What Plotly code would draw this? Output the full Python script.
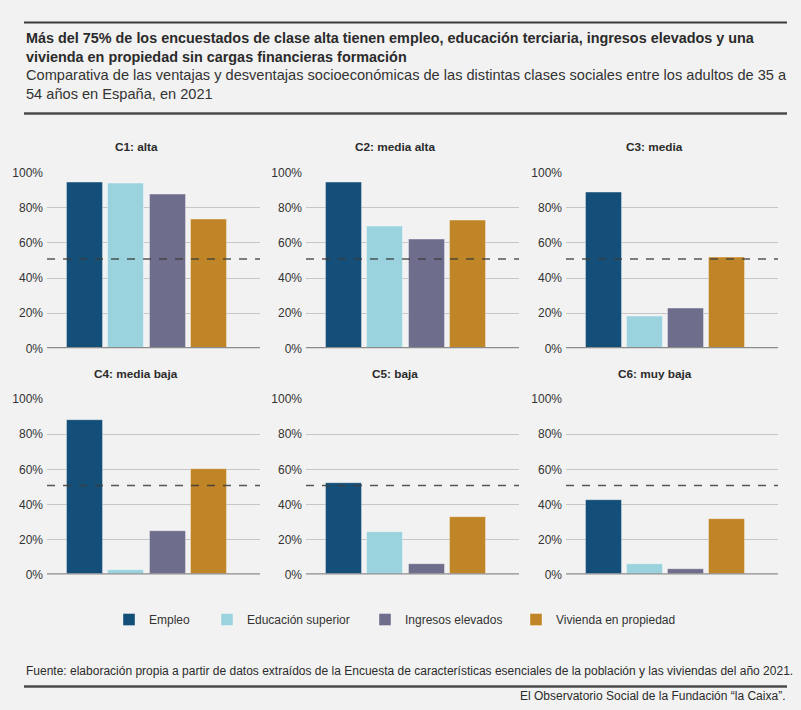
import plotly.graph_objects as go

# data
clases = ["C1: alta", "C2: media alta", "C3: media", "C4: media baja", "C5: baja", "C6: muy baja"]
series = ["Empleo", "Educación superior", "Ingresos elevados", "Vivienda en propiedad"]
empleo = [94.3, 94.1, 88.6, 88.2, 52.0, 42.7]
educacion = [93.8, 69.4, 17.8, 2.5, 23.9, 5.7]
ingresos = [87.5, 62.0, 22.6, 25.0, 5.7, 3.2]
vivienda = [73.3, 72.5, 51.4, 60.3, 33.0, 31.3]
referencia = 50.8
colores = ["#144f79", "#9ad3de", "#6e6e8c", "#c08526"]

W, H = 801, 710
valores = [empleo, educacion, ingresos, vivienda]


def py(y):
    # target pixel row in the picture -> paper y (the page comes out slightly squeezed vertically)
    return 1 - ((y - 6.4) / 0.982) / H


# panel positions in pixels (plot area)
col_x = [(47, 260), (306, 519), (566, 778)]
row_y = [(172.3, 348.3), (399.3, 575.0)]
title_y = [147, 374]
# left edge of each legend square
leg_x = [129, 227, 385, 536]
leg_names = ["legend", "legend2", "legend3", "legend4"]

FONT = "Liberation Sans, Arial, sans-serif"

fig = go.Figure()

for i, clase in enumerate(clases):
    r, c = divmod(i, 3)
    n = i + 1
    xa = "x" if n == 1 else f"x{n}"
    ya = "y" if n == 1 else f"y{n}"
    for s, nombre in enumerate(series):
        fig.add_trace(go.Bar(
            x=[s], y=[valores[s][i]], name=nombre,
            marker=dict(color=colores[s], line=dict(color="rgba(255,255,255,0.35)", width=1)),
            width=0.87, showlegend=(i == 0), legend=leg_names[s],
            xaxis=xa, yaxis=ya, hoverinfo="skip"))
    x0, x1 = col_x[c]
    y0, y1 = row_y[r]
    fig.layout[f"xaxis{n if n > 1 else ''}"] = dict(
        domain=[x0 / W, x1 / W], range=[-0.92, 4.23], showticklabels=False,
        showgrid=False, zeroline=False, fixedrange=True, anchor=ya)
    fig.layout[f"yaxis{n if n > 1 else ''}"] = dict(
        domain=[py(y1), py(y0)], range=[0, 100], dtick=20, ticksuffix="%",
        gridcolor="#c6c6c6", gridwidth=1, zeroline=False, ticks="", anchor=xa,
        ticklabelstandoff=3, fixedrange=True,
        tickfont=dict(family=FONT, size=12, color="#333333"))
    # reference line and baseline
    fig.add_shape(type="line", xref=f"{xa} domain", yref=ya, x0=0, x1=1,
                  y0=referencia, y1=referencia,
                  line=dict(color="rgba(60,60,60,0.85)", width=1.6, dash="8px,8px"))
    fig.add_shape(type="line", xref=f"{xa} domain", yref=ya, x0=0, x1=1, y0=0, y1=0,
                  line=dict(color="#8c8c8c", width=2.5))
    fig.add_annotation(text=f"<b>{clase}</b>", xref="paper", yref="paper",
                       x=((x0 - 35) + x1) / 2 / W, y=py(title_y[r]),
                       showarrow=False, xanchor="center", yanchor="middle",
                       font=dict(family=FONT, size=11.8, color="#2b2b2b"))

# header and footer texts
fig.add_annotation(
    text="<b>Más del 75% de los encuestados de clase alta tienen empleo, educación terciaria, ingresos elevados y una<br>"
         "vivienda en propiedad sin cargas financieras formación</b>",
    xref="paper", yref="paper", x=24 / W, y=py(38), xanchor="left", yanchor="middle",
    align="left", showarrow=False, yshift=-8.5,
    font=dict(family=FONT, size=14.4, color="#2b2b2b"))
fig.add_annotation(
    text="Comparativa de las ventajas y desventajas socioeconómicas de las distintas clases sociales entre los adultos de 35 a<br>"
         "54 años en España, en 2021",
    xref="paper", yref="paper", x=24 / W, y=py(75), xanchor="left", yanchor="middle",
    align="left", showarrow=False, yshift=-9,
    font=dict(family=FONT, size=14.6, color="#333333"))
fig.add_annotation(
    text="Fuente: elaboración propia a partir de datos extraídos de la Encuesta de características esenciales de la población y las viviendas del año 2021.",
    xref="paper", yref="paper", x=24 / W, y=py(672), xanchor="left", yanchor="middle",
    showarrow=False, font=dict(family=FONT, size=12, color="#2b2b2b"))
fig.add_annotation(
    text="El Observatorio Social de la Fundación “la Caixa”.",
    xref="paper", yref="paper", x=787 / W, y=py(697), xanchor="right", yanchor="middle",
    showarrow=False, font=dict(family=FONT, size=12, color="#2b2b2b"))

# horizontal rules
for yy, col, lw in [(22, "#3a3a3a", 2), (113, "#4a4a4a", 2.5), (687, "#4a4a4a", 2.5)]:
    fig.add_shape(type="line", xref="paper", yref="paper", x0=24 / W, x1=787 / W,
                  y0=py(yy), y1=py(yy), line=dict(color=col, width=lw))

legend_style = dict(orientation="h", xanchor="left", yanchor="middle", y=py(620),
                    font=dict(family=FONT, size=12, color="#333333"),
                    bgcolor="rgba(0,0,0,0)")
leg_layout = {}
for k, lx in zip(leg_names, leg_x):
    leg_layout[k] = dict(legend_style, x=(lx - 20) / W)

fig.update_layout(
    width=W, height=H, margin=dict(l=0, r=0, t=0, b=0),
    paper_bgcolor="#f2f2f2", plot_bgcolor="#f2f2f2",
    barmode="overlay", bargap=0,
    font=dict(family=FONT, color="#333333"),
    **leg_layout,
)

css = ("var st=document.createElement('style');"
       "st.textContent='html,body{margin:0;padding:0;overflow:hidden;width:801px;height:710px;}';"
       "document.head.appendChild(st);")
fig.write_html("out.html", config={"displayModeBar": False}, post_script=css)
